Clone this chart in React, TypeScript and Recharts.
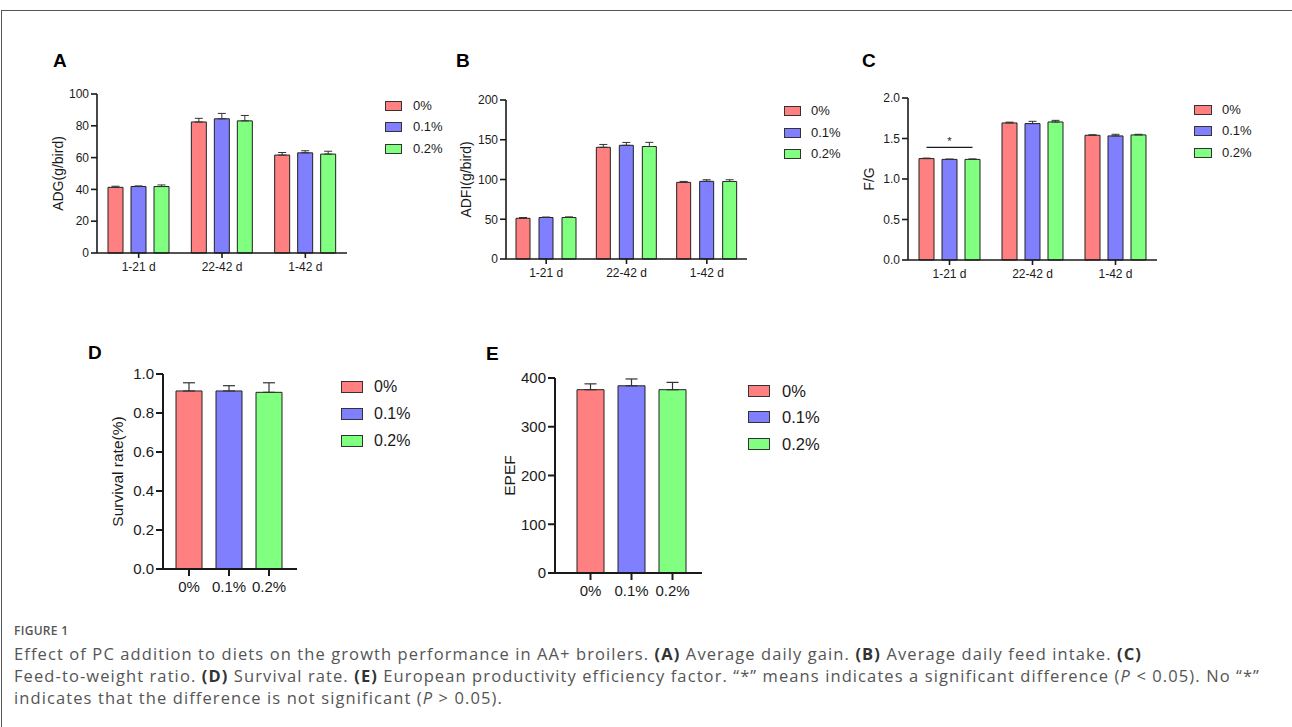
import React from 'react';
import { Bar, BarChart, Cell, ErrorBar, Rectangle, XAxis, YAxis } from 'recharts';

const periods = ['1-21 d', '22-42 d', '1-42 d'];
const groups = ['0%', '0.1%', '0.2%'];
const groupColors = ['#ff8080', '#8080ff', '#80ff80'];

// A: average daily gain
const adg0 = [41.3, 82.4, 61.6];
const adg1 = [41.8, 84.4, 63.0];
const adg2 = [41.8, 83.1, 62.2];
const adgErr0 = [0.7, 2.3, 1.6];
const adgErr1 = [0.4, 3.4, 1.3];
const adgErr2 = [1.0, 3.4, 1.8];

// B: average daily feed intake
const adfi0 = [51.2, 140.5, 96.4];
const adfi1 = [52.2, 143.0, 97.7];
const adfi2 = [52.2, 141.5, 97.5];
const adfiErr0 = [1.0, 3.6, 1.2];
const adfiErr1 = [0.6, 3.6, 2.0];
const adfiErr2 = [0.8, 5.2, 2.2];

// C: feed-to-weight ratio
const fg0 = [1.252, 1.692, 1.54];
const fg1 = [1.242, 1.684, 1.532];
const fg2 = [1.242, 1.704, 1.544];
const fgErr0 = [0.006, 0.01, 0.006];
const fgErr1 = [0.004, 0.028, 0.02];
const fgErr2 = [0.006, 0.02, 0.008];
const fgSigLevel = 1.39;

// D / E: per group
const survival = [0.913, 0.913, 0.906];
const survivalErr = [0.042, 0.027, 0.049];
const epef = [376, 384, 376];
const epefErr = [12, 14, 15];

const FONT = '"Liberation Sans", Arial, sans-serif';
const INK = '#1a1a1a';

function periodRows(vals: number[][], errs: number[][]) {
  return periods.map((p, i) => ({
    period: p,
    v0: vals[0][i],
    v1: vals[1][i],
    v2: vals[2][i],
    e0: [0, errs[0][i]],
    e1: [0, errs[1][i]],
    e2: [0, errs[2][i]],
  }));
}

function groupRows(vals: number[], errs: number[]) {
  return groups.map((g, i) => ({ group: g, value: vals[i], err: [0, errs[i]] }));
}

const adgData = periodRows([adg0, adg1, adg2], [adgErr0, adgErr1, adgErr2]);
const adfiData = periodRows([adfi0, adfi1, adfi2], [adfiErr0, adfiErr1, adfiErr2]);
const fgData = periodRows([fg0, fg1, fg2], [fgErr0, fgErr1, fgErr2]);
const survivalData = groupRows(survival, survivalErr);
const epefData = groupRows(epef, epefErr);

function yTitle(text: string, x: number, cy: number, size: number) {
  return () => (
    <text
      x={x}
      y={cy}
      transform={`rotate(-90 ${x} ${cy})`}
      textAnchor="middle"
      dominantBaseline="central"
      fontFamily={FONT}
      fontSize={size}
      fill={INK}
    >
      {text}
    </text>
  );
}

interface GroupedProps {
  left: number;
  top: number;
  width: number;
  axisWidth: number;
  plotHeight: number;
  data: ReturnType<typeof periodRows>;
  domain: [number, number];
  ticks: number[];
  fmt?: (v: number) => string;
  barSize: number;
  barGap: number;
  title: string;
  titleX: number;
  sigLevel?: number;
}

function GroupedPanel(props: GroupedProps) {
  const { left, top, width, axisWidth, plotHeight, data, domain, ticks, fmt, barSize, barGap, title, titleX, sigLevel } = props;
  const axis = { stroke: INK, strokeWidth: 1.6 };
  const height = 10 + plotHeight + 32;

  // green bar draws the significance bracket over the first period
  const sigShape = (p: any) => {
    const rect = <Rectangle {...p} />;
    if (sigLevel === undefined || p.payload.period !== periods[0]) return rect;
    const perUnit = p.height / p.payload.v2;
    const ly = p.y + p.height - sigLevel * perUnit;
    const x2 = p.x + p.width / 2;
    const x1 = x2 - 2 * (barSize + barGap);
    return (
      <g>
        {rect}
        <line x1={x1} x2={x2} y1={ly} y2={ly} stroke={INK} strokeWidth={1.2} />
        <text x={(x1 + x2) / 2} y={ly - 2} textAnchor="middle" fontFamily={FONT} fontSize={11} fill={INK}>
          *
        </text>
      </g>
    );
  };

  return (
    <div style={{ position: 'absolute', left, top }}>
      <BarChart
        width={width}
        height={height}
        data={data}
        margin={{ top: 10, right: 0, bottom: 0, left: 0 }}
        barSize={barSize}
        barGap={barGap}
      >
        <XAxis
          dataKey="period"
          height={32}
          tickSize={5}
          tickMargin={4}
          axisLine={axis}
          tickLine={axis}
          tick={{ fontFamily: FONT, fontSize: 12, fill: INK }}
        />
        <YAxis
          width={axisWidth}
          domain={domain}
          ticks={ticks}
          interval={0}
          tickFormatter={fmt}
          tickSize={6}
          tickMargin={2}
          axisLine={axis}
          tickLine={axis}
          tick={{ fontFamily: FONT, fontSize: 12, fill: INK }}
          label={{ content: yTitle(title, titleX, 10 + plotHeight / 2, 14) }}
        />
        {groups.map((g, i) => (
          <Bar
            key={g}
            dataKey={`v${i}`}
            name={g}
            fill={groupColors[i]}
            stroke="#222"
            strokeWidth={1}
            isAnimationActive={false}
            shape={i === 2 ? sigShape : undefined}
          >
            <ErrorBar dataKey={`e${i}`} width={4} stroke="#333" strokeWidth={1} direction="y" isAnimationActive={false} />
          </Bar>
        ))}
      </BarChart>
    </div>
  );
}

interface SingleProps {
  left: number;
  top: number;
  width: number;
  axisWidth: number;
  plotHeight: number;
  data: ReturnType<typeof groupRows>;
  domain: [number, number];
  ticks: number[];
  fmt?: (v: number) => string;
  barSize: number;
  pad: { left: number; right: number };
  title: string;
  titleX: number;
}

function SinglePanel(props: SingleProps) {
  const { left, top, width, axisWidth, plotHeight, data, domain, ticks, fmt, barSize, pad, title, titleX } = props;
  const axis = { stroke: INK, strokeWidth: 2 };
  const height = 10 + plotHeight + 36;
  return (
    <div style={{ position: 'absolute', left, top }}>
      <BarChart
        width={width}
        height={height}
        data={data}
        margin={{ top: 10, right: 0, bottom: 0, left: 0 }}
        barSize={barSize}
      >
        <XAxis
          dataKey="group"
          height={36}
          padding={pad}
          tickSize={7}
          tickMargin={5}
          axisLine={axis}
          tickLine={axis}
          tick={{ fontFamily: FONT, fontSize: 15, fill: INK }}
        />
        <YAxis
          width={axisWidth}
          domain={domain}
          ticks={ticks}
          interval={0}
          tickFormatter={fmt}
          tickSize={7}
          tickMargin={2}
          axisLine={axis}
          tickLine={axis}
          tick={{ fontFamily: FONT, fontSize: 15, fill: INK }}
          label={{ content: yTitle(title, titleX, 10 + plotHeight / 2, 15.5) }}
        />
        <Bar dataKey="value" stroke="#222" strokeWidth={1} isAnimationActive={false}>
          {groups.map((g, i) => (
            <Cell key={g} fill={groupColors[i]} />
          ))}
          <ErrorBar dataKey="err" width={6} stroke="#333" strokeWidth={1.2} direction="y" isAnimationActive={false} />
        </Bar>
      </BarChart>
    </div>
  );
}

function GroupLegend({ x, centers, w, h, textX, size }: { x: number; centers: number[]; w: number; h: number; textX: number; size: number }) {
  return (
    <>
      {groups.map((g, i) => (
        <React.Fragment key={g}>
          <div
            style={{
              position: 'absolute',
              left: x,
              top: centers[i] - h / 2,
              width: w,
              height: h,
              boxSizing: 'border-box',
              background: groupColors[i],
              border: '1px solid #333',
            }}
          />
          <div
            style={{
              position: 'absolute',
              left: textX,
              top: centers[i] - 10,
              lineHeight: '20px',
              fontFamily: FONT,
              fontSize: size,
              color: INK,
              whiteSpace: 'nowrap',
            }}
          >
            {g}
          </div>
        </React.Fragment>
      ))}
    </>
  );
}

const captionLines = [
  [
    'Effect of PC addition to diets on the growth performance in AA+ broilers. ',
    ['b', '(A)'],
    ' Average daily gain. ',
    ['b', '(B)'],
    ' Average daily feed intake. ',
    ['b', '(C)'],
  ],
  [
    'Feed-to-weight ratio. ',
    ['b', '(D)'],
    ' Survival rate. ',
    ['b', '(E)'],
    ' European productivity efficiency factor. \u201c*\u201d means indicates a significant difference (',
    ['i', 'P'],
    ' < 0.05). No \u201c*\u201d',
  ],
  ['indicates that the difference is not significant (', ['i', 'P'], ' > 0.05).'],
];

export default function App() {
  const letter = { fontFamily: FONT, fontWeight: 700, fontSize: 19, fill: '#000' };
  return (
    <div
      style={{
        position: 'absolute',
        left: 0,
        top: 0,
        width: 1292,
        height: 727,
        background: '#fff',
        overflow: 'hidden',
      }}
    >
      <svg width={1292} height={727} style={{ position: 'absolute', left: 0, top: 0 }}>
        <line x1={1.5} x2={1292} y1={10.5} y2={10.5} stroke="#555" strokeWidth={1} />
        <line x1={1.5} x2={1.5} y1={10} y2={727} stroke="#555" strokeWidth={1} />
        <text x={53} y={67} {...letter}>A</text>
        <text x={456} y={67} {...letter}>B</text>
        <text x={862} y={67} {...letter}>C</text>
        <text x={88} y={359} {...letter}>D</text>
        <text x={486} y={360} {...letter}>E</text>
      </svg>

      <GroupedPanel
        left={40}
        top={84}
        width={307}
        axisWidth={57}
        plotHeight={159}
        data={adgData}
        domain={[0, 100]}
        ticks={[0, 20, 40, 60, 80, 100]}
        barSize={15}
        barGap={8}
        title="ADG(g/bird)"
        titleX={18}
      />
      <GroupLegend x={385} centers={[106, 127, 149]} w={17} h={10} textX={413} size={13} />

      <GroupedPanel
        left={440}
        top={90}
        width={307}
        axisWidth={66}
        plotHeight={159}
        data={adfiData}
        domain={[0, 200]}
        ticks={[0, 50, 100, 150, 200]}
        barSize={14}
        barGap={9}
        title="ADFI(g/bird)"
        titleX={26}
      />
      <GroupLegend x={784} centers={[111, 133, 154]} w={17} h={10} textX={811} size={13} />

      <GroupedPanel
        left={850}
        top={88}
        width={307}
        axisWidth={58}
        plotHeight={162}
        data={fgData}
        domain={[0, 2]}
        ticks={[0, 0.5, 1, 1.5, 2]}
        fmt={(v) => v.toFixed(1)}
        barSize={15}
        barGap={8}
        title="F/G"
        titleX={19}
        sigLevel={fgSigLevel}
      />
      <GroupLegend x={1194} centers={[110, 131, 153]} w={18} h={10} textX={1222} size={13} />

      <SinglePanel
        left={90}
        top={364}
        width={207}
        axisWidth={73}
        plotHeight={195}
        data={survivalData}
        domain={[0, 1]}
        ticks={[0, 0.2, 0.4, 0.6, 0.8, 1]}
        fmt={(v) => v.toFixed(1)}
        barSize={26}
        pad={{ left: 6, right: 8 }}
        title="Survival rate(%)"
        titleX={27}
      />
      <GroupLegend x={341} centers={[387, 414, 441]} w={22} h={12} textX={374} size={16} />

      <SinglePanel
        left={490}
        top={368}
        width={212}
        axisWidth={65}
        plotHeight={195}
        data={epefData}
        domain={[0, 400]}
        ticks={[0, 100, 200, 300, 400]}
        barSize={27}
        pad={{ left: 15, right: 9 }}
        title="EPEF"
        titleX={19}
      />
      <GroupLegend x={748} centers={[391, 417, 444]} w={22} h={12} textX={782} size={16.5} />

      <div
        style={{
          position: 'absolute',
          left: 14,
          top: 622,
          fontFamily: '"Open Sans", sans-serif',
          fontSize: 12,
          fontWeight: 600,
          color: '#555',
          letterSpacing: 0.3,
        }}
      >
        FIGURE 1
      </div>
      <div
        style={{
          position: 'absolute',
          left: 14,
          top: 643,
          fontFamily: '"Open Sans", sans-serif',
          fontSize: 16.5,
          letterSpacing: 1.1,
          lineHeight: '22px',
          color: '#555',
        }}
      >
        {captionLines.map((line, li) => (
          <div key={li} style={{ whiteSpace: 'nowrap' }}>
            {line.map((part, pi) =>
              typeof part === 'string' ? (
                <span key={pi}>{part}</span>
              ) : part[0] === 'b' ? (
                <b key={pi} style={{ color: '#333' }}>{part[1]}</b>
              ) : (
                <i key={pi}>{part[1]}</i>
              ),
            )}
          </div>
        ))}
      </div>
    </div>
  );
}
